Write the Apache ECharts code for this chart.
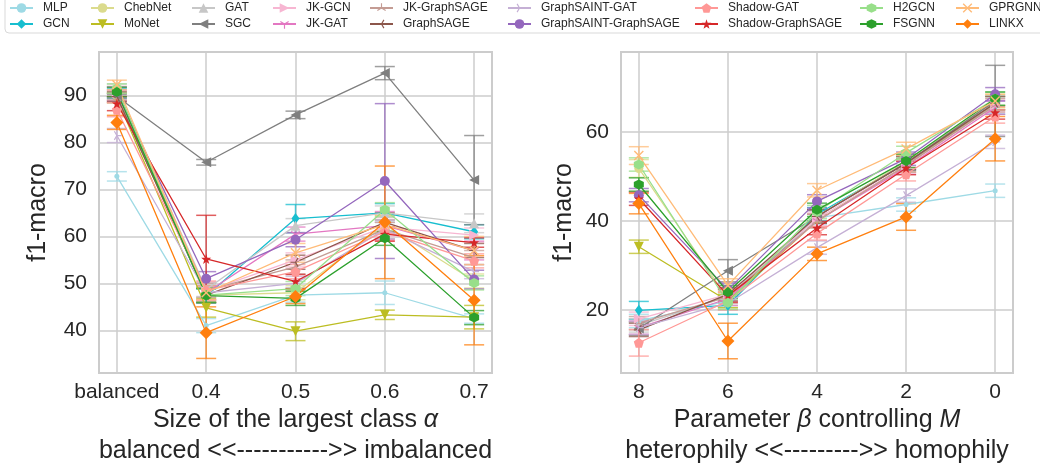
<!DOCTYPE html>
<html><head><meta charset="utf-8">
<script src="https://cdn.jsdelivr.net/npm/echarts@6/dist/echarts.min.js"></script>
<style>html,body{margin:0;padding:0;background:#fff}#c{width:1040px;height:467px}</style>
</head><body><div id="c"></div>
<script>
// ---------------- DATA ----------------
const models = ['MLP','GCN','ChebNet','MoNet','GAT','SGC','JK-GCN','JK-GAT','JK-GraphSAGE','GraphSAGE',
  'GraphSAINT-GAT','GraphSAINT-GraphSAGE','Shadow-GAT','Shadow-GraphSAGE','H2GCN','FSGNN','GPRGNN','LINKX'];
const alphaLabels = ['balanced','0.4','0.5','0.6','0.7'];
const betaLabels = ['8','6','4','2','0'];
const leftYTicks = [40,50,60,70,80,90];
const rightYTicks = [20,40,60];
// f1-macro vs size of largest class alpha (rows follow models)
const alphaMeans = [
  [72.8,41.0,47.5,48.0,42.5],
  [90.5,47.3,63.8,65.0,61.0],
  [90.0,47.5,48.0,62.5,50.5],
  [89.5,44.8,39.8,43.3,42.8],
  [91.5,48.7,62.3,65.0,62.8],
  [89.8,75.8,85.9,94.8,72.0],
  [90.5,48.3,55.0,62.0,60.3],
  [90.0,48.0,60.5,62.3,57.0],
  [89.5,48.5,53.5,61.5,55.5],
  [89.8,47.5,54.5,63.0,57.0],
  [81.5,48.0,50.0,61.5,52.5],
  [90.8,51.0,59.3,71.8,50.8],
  [87.0,48.5,52.5,61.0,54.8],
  [88.3,55.2,50.4,60.5,58.7],
  [91.5,47.5,48.9,65.7,50.1],
  [90.8,47.4,46.8,59.6,42.7],
  [92.3,48.0,56.5,62.5,57.0],
  [84.3,39.5,47.2,63.0,46.4]
];
const alphaErrs = [
  [1.0,1.5,1.5,2.5,1.0],
  [1.0,1.5,3.0,2.0,1.5],
  [1.0,1.5,1.5,2.0,1.5],
  [1.0,2.0,2.0,1.0,2.5],
  [1.0,1.5,1.5,1.5,2.0],
  [0.5,0.6,0.8,1.4,9.5],
  [1.5,2.0,1.5,2.0,1.5],
  [1.2,1.5,1.5,3.0,2.0],
  [1.0,1.5,1.5,2.0,1.5],
  [1.0,1.5,1.5,2.0,1.5],
  [1.5,1.5,1.5,2.0,1.5],
  [1.0,1.5,1.5,16.5,2.0],
  [1.5,2.0,1.5,2.0,1.5],
  [1.5,9.3,1.5,1.5,1.0],
  [1.0,1.5,1.5,1.5,1.5],
  [1.0,1.5,1.5,1.5,1.5],
  [1.0,1.5,2.0,2.0,3.0],
  [1.5,5.5,1.5,12.0,9.5]
];
// f1-macro vs parameter beta (8,6,4,2,0)
const betaMeans = [
  [17.5,22.0,40.7,43.7,46.8],
  [19.9,21.0,41.5,53.0,66.0],
  [51.8,22.5,41.0,53.5,67.0],
  [34.2,22.0,40.0,52.5,66.5],
  [16.5,23.0,41.0,53.0,66.5],
  [15.8,28.8,41.0,53.0,67.0],
  [18.0,23.5,40.5,52.5,66.0],
  [16.0,22.5,40.0,52.0,65.5],
  [17.0,23.0,40.0,52.5,66.0],
  [15.5,23.5,41.0,53.0,66.5],
  [16.0,21.5,34.0,45.7,57.8],
  [45.8,24.5,44.4,54.0,68.5],
  [12.6,22.0,37.2,50.5,63.5],
  [45.0,23.2,38.4,51.9,64.4],
  [52.7,21.6,42.0,55.3,67.5],
  [48.2,24.0,42.5,53.5,67.5],
  [54.7,25.5,46.9,56.2,67.0],
  [43.9,13.0,32.6,40.9,58.5]
];
const betaErrs = [
  [1.5,1.5,1.5,1.5,1.5],
  [2.0,2.0,1.5,1.5,2.0],
  [2.0,2.0,1.5,1.5,1.5],
  [1.5,1.5,1.5,1.5,1.5],
  [1.5,2.0,1.5,1.5,1.5],
  [1.5,2.5,1.5,1.5,8.0],
  [1.5,1.5,1.5,1.5,1.5],
  [1.5,1.5,1.5,1.5,1.5],
  [1.5,1.5,1.5,1.5,1.5],
  [1.5,1.5,1.5,1.5,1.5],
  [1.5,1.5,1.5,1.5,1.5],
  [1.5,1.5,1.5,1.5,1.5],
  [3.0,2.0,1.5,1.5,1.5],
  [1.5,1.5,1.5,1.5,1.5],
  [1.5,1.5,1.5,1.5,1.5],
  [1.5,1.5,1.5,1.5,1.5],
  [2.0,1.5,1.5,1.5,1.5],
  [2.3,4.0,1.5,3.0,5.0]
];

// ---------------- STYLE ----------------
const colors = ['#9edae5','#17becf','#dbdb8d','#bcbd22','#c7c7c7','#7f7f7f','#f7b6d2','#e377c2','#c49c94','#8c564b',
  '#c5b0d5','#9467bd','#ff9896','#d62728','#98df8a','#2ca02c','#ffbb78','#ff7f0e'];
function arms(angles){
  const r=5,w=0.6;let d='';
  angles.forEach(a=>{const t=a*Math.PI/180,c=Math.cos(t),s=Math.sin(t),px=-s*w,py=c*w;
    const pts=[[px,py],[r*c+px,r*s+py],[r*c-px,r*s-py],[-px,-py]];
    d+='M'+pts.map(p=>(p[0]+5).toFixed(2)+','+(p[1]+5).toFixed(2)).join(' L')+' Z ';});
  d+='M0,0 L0.02,0 L0.02,0.02 Z M10,10 L9.98,10 L9.98,9.98 Z';
  return 'path://'+d;
}
const symbols = [
  ['circle',5],
  ['diamond',[8,11]],
  ['circle',9],
  ['path://M0,0 L10,0 L5,8.7 Z',10],
  ['triangle',10],
  ['path://M8.7,0 L8.7,10 L0,5 Z',10],
  ['path://M0,0 L0,10 L8.7,5 Z',10],
  [arms([90,210,330]),10],
  [arms([270,30,150]),10],
  [arms([180,300,60]),10],
  [arms([0,120,240]),10],
  ['circle',10],
  ['path://M5,0 L10,3.6 L8.1,9.5 L1.9,9.5 L0,3.6 Z',10],
  ['path://M5,0 L6.2,3.5 L10,3.6 L7,5.9 L8.1,9.5 L5,7.4 L1.9,9.5 L3,5.9 L0,3.6 L3.8,3.5 Z',10],
  ['path://M5,0 L9.33,2.5 L9.33,7.5 L5,10 L0.67,7.5 L0.67,2.5 Z',10],
  ['path://M5,0 L9.33,2.5 L9.33,7.5 L5,10 L0.67,7.5 L0.67,2.5 Z',10],
  ['path://M0,1 L1,0 L5,4 L9,0 L10,1 L6,5 L10,9 L9,10 L5,6 L1,10 L0,9 L4,5 Z',10],
  ['diamond',13]
];
function rgba(hex,a){const n=parseInt(hex.slice(1),16);return `rgba(${n>>16},${(n>>8)&255},${n&255},${a})`;}
const TXT='#262626', GRIDC='#cccccc', FONT='"Liberation Sans", Arial, sans-serif';

function errRender(color){
  return function(params, api){
    const x=api.value(0), lo=api.value(1), hi=api.value(2);
    const a=api.coord([x,lo]), b=api.coord([x,hi]), cw=10;
    const st={stroke:rgba(color,0.75), lineWidth:1.5};
    return {type:'group', children:[
      {type:'line', shape:{x1:a[0],y1:a[1],x2:b[0],y2:b[1]}, style:st},
      {type:'line', shape:{x1:a[0]-cw,y1:a[1],x2:a[0]+cw,y2:a[1]}, style:st},
      {type:'line', shape:{x1:b[0]-cw,y1:b[1],x2:b[0]+cw,y2:b[1]}, style:st}
    ]};
  };
}

const series=[];
[[alphaMeans,alphaErrs,0],[betaMeans,betaErrs,1]].forEach(([M,E,g])=>{
  models.forEach((m,i)=>{
    series.push({type:'custom', name:m+'_err'+g, xAxisIndex:g, yAxisIndex:g, silent:true,
      renderItem:errRender(colors[i]), encode:{x:0,y:[1,2]},
      data:M[i].map((v,j)=>[j, v-E[i][j], v+E[i][j]]), z:2});
    series.push({type:'line', name:m, xAxisIndex:g, yAxisIndex:g,
      data:M[i].map((v,j)=>[j,v]), symbol:symbols[i][0], symbolSize:symbols[i][1],
      showSymbol:true, showAllSymbol:true,
      lineStyle:{color:colors[i], width:1.3}, itemStyle:{color:colors[i]}, z:2});
  });
});

const legendLefts=[9,90,191,272,369,507,694,859,955];
const legends=legendLefts.map((l,k)=>({
  orient:'vertical', left:l, top:2, itemGap:4, itemWidth:23, itemHeight:12, padding:0,
  data:[models[2*k],models[2*k+1]],
  textStyle:{fontSize:12, color:TXT, fontFamily:FONT, padding:[0,0,0,5]},
  selectedMode:false
}));

function xAx(g,labels,nameRich){
  return {gridIndex:g, type:'value', min:-0.2, max:4.2,
    axisLine:{show:false}, axisTick:{show:false, customValues:[0,1,2,3,4]},
    axisLabel:{customValues:[0,1,2,3,4], formatter:v=>labels[Math.round(v)], fontSize:21, color:TXT, fontFamily:FONT, margin:9},
    splitLine:{show:true, lineStyle:{color:GRIDC, width:1.5}},
    name:nameRich, nameLocation:'middle', nameGap:32, nameMoveOverlap:false,
    nameTextStyle:{color:TXT, fontFamily:FONT, lineHeight:31,
      rich:{t:{fontSize:25,color:TXT,fontFamily:FONT,lineHeight:31}, i:{fontSize:25,color:TXT,fontFamily:FONT,fontStyle:'italic',lineHeight:31}}}
  };
}
function yAx(g,min,max,ticks,gap){
  return {gridIndex:g, type:'value', min:min, max:max,
    axisLine:{show:false}, axisTick:{show:false, customValues:ticks},
    axisLabel:{customValues:ticks, fontSize:21, color:TXT, fontFamily:FONT, margin:12},
    splitLine:{show:true, lineStyle:{color:GRIDC, width:1.5}},
    name:'f1-macro', nameLocation:'middle', nameGap:gap, nameMoveOverlap:false,
    nameTextStyle:{fontSize:25, color:TXT, fontFamily:FONT}
  };
}

const option={
  animation:false, backgroundColor:'#ffffff',
  textStyle:{fontFamily:FONT},
  graphic:[{type:'rect', shape:{x:5,y:-20,width:1060,height:53,r:4}, style:{fill:'none', stroke:'#d9d9d9', lineWidth:1}, z:-1}],
  legend:legends,
  grid:[
    {left:99, top:52, width:393, height:321, show:true, borderColor:GRIDC, borderWidth:2, backgroundColor:'#fff', outerBoundsMode:'none', containLabel:false},
    {left:621, top:52, width:392, height:321, show:true, borderColor:GRIDC, borderWidth:2, backgroundColor:'#fff', outerBoundsMode:'none', containLabel:false}
  ],
  xAxis:[
    xAx(0,alphaLabels,'{t|Size of the largest class }{i|α}\n{t|balanced <<----------->> imbalanced}'),
    xAx(1,betaLabels,'{t|Parameter }{i|β}{t| controlling }{i|M}\n{t|heterophily <<--------->> homophily}')
  ],
  yAxis:[ yAx(0,30.9,99.3,leftYTicks,48), yAx(1,5.8,78,rightYTicks,44) ],
  series:series
};
const chart=echarts.init(document.getElementById('c'),null,{renderer:'canvas'});
chart.setOption(option);
</script></body></html>
